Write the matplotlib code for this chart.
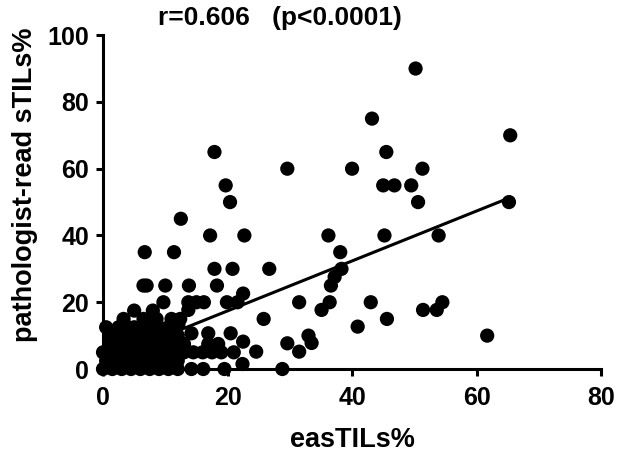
import matplotlib
matplotlib.use('Agg')
import matplotlib.pyplot as plt
import numpy as np

# points (easTILs%, pathologist-read sTILs%)
eas_upper = [50.2, 43.2, 65.4, 45.5, 29.6, 40.0, 51.3, 45.0, 46.8, 49.5, 50.6, 65.2,
             36.2, 45.2, 53.9, 38.1, 38.3, 37.2, 36.6, 26.7, 31.5, 36.4, 35.1, 43.0,
             51.4, 53.6, 54.5, 25.8, 45.6, 40.9, 61.7, 33.0, 33.5, 29.6, 31.5, 24.6, 28.8]
path_upper = [90, 75, 70, 65, 60, 60, 60, 55, 55, 55, 50, 50,
              40, 40, 40, 35, 30, 27.6, 25, 30, 20, 20, 17.7, 20,
              17.7, 17.7, 20, 15, 15, 12.7, 10, 10, 7.8, 7.7, 5.2, 5.2, 0]

eas_mid = [17.9, 19.7, 20.4, 12.5, 17.2, 22.7, 6.7, 11.4, 6.5, 7.0, 10.0, 13.8, 18.3,
           17.9, 20.8, 9.7, 13.7, 15.0, 16.2, 19.9, 21.6, 22.5, 13.7,
           3.3, 6.5, 8.6, 11.0, 12.4, 12.1]
path_mid = [65, 55, 50, 45, 40, 40, 35, 35, 25, 25, 25, 25, 25,
            30, 30, 20, 20, 20, 20, 20, 20, 22.6, 17.7,
            15, 15, 15, 15, 15, 13.2]

eas_low = [0, 1.5, 3, 4.5, 6, 7.5, 9, 10.5, 12, 14.2, 16.1, 19.5, 22.4,
           0.5, 2, 3.5, 5, 6.5, 8, 10, 12,
           0, 1, 2.5, 4, 5.5, 7, 8.5, 10, 11.5, 13, 14.5, 16, 17.5, 19, 21,
           1, 3, 4.5, 5.5, 7, 9, 11, 13, 16.9, 18.5, 22.5,
           1, 2.5, 4.5, 6, 8, 10, 12, 14.2, 16.9, 20.5,
           0.5, 2.5, 4, 5, 7, 9, 10.5,
           5, 8]
path_low = [0, 0, 0, 0, 0, 0, 0, 0, 0, 0, 0, 0, 1.5,
            2.5, 2.5, 2.5, 2.5, 2.5, 2.5, 2.5, 2.5,
            5, 5, 5, 5, 5, 5, 5, 5, 5, 5, 5, 5, 5, 5, 5,
            7.5, 7.5, 7.5, 7.5, 7.5, 7.5, 7.5, 7.5, 7.5, 7.5, 8.2,
            10, 10, 10, 10, 10, 10, 10, 10.7, 10.7, 10.7,
            12.5, 12.5, 12.5, 12.5, 12.5, 12.5, 12.5,
            17.5, 17.5]

# regression line as drawn in the reference
fit_slope = 0.748
fit_intercept = 2.45
fit_range = [0, 65.4]

xticks = [0, 20, 40, 60, 80]
yticks = [0, 20, 40, 60, 80, 100]

plt.rcParams['font.family'] = ['Liberation Sans', 'DejaVu Sans']
plt.rcParams['font.weight'] = 'bold'

fig = plt.figure(figsize=(6.18, 4.53), dpi=100)
ax = fig.add_axes([0.1667, 0.1854, 0.806, 0.737])

x = np.array(eas_upper + eas_mid + eas_low)
y = np.array(path_upper + path_mid + path_low)
ax.scatter(x, y, s=105, color='black', edgecolors='none', clip_on=False, zorder=3)

fx = np.array(fit_range)
ax.plot(fx, fit_intercept + fit_slope * fx, color='black', lw=2.2, zorder=4,
        solid_capstyle='butt')

ax.set_xlim(0, 80)
ax.set_ylim(0, 100)
ax.set_xticks(xticks)
ax.set_yticks(yticks)
for side in ['top', 'right']:
    ax.spines[side].set_visible(False)
for side in ['left', 'bottom']:
    ax.spines[side].set_linewidth(2.2)
ax.tick_params(direction='out', length=5, width=2.2, labelsize=18)
ax.tick_params(axis='x', pad=7)
ax.tick_params(axis='y', pad=5)
for lab in ax.get_xticklabels() + ax.get_yticklabels():
    lab.set_fontweight('bold')

ax.set_xlabel('easTILs%', fontsize=19.5, fontweight='bold')
ax.set_ylabel('pathologist-read sTILs%', fontsize=19.5, fontweight='bold')
ax.xaxis.set_label_coords(0.5, -0.175)
ax.yaxis.set_label_coords(-0.13, 0.551)

fig.text(0.453, 0.96, 'r=0.606   (p<0.0001)', ha='center', va='center',
         fontsize=19, fontweight='bold')

plt.savefig('out.png', dpi=100)
